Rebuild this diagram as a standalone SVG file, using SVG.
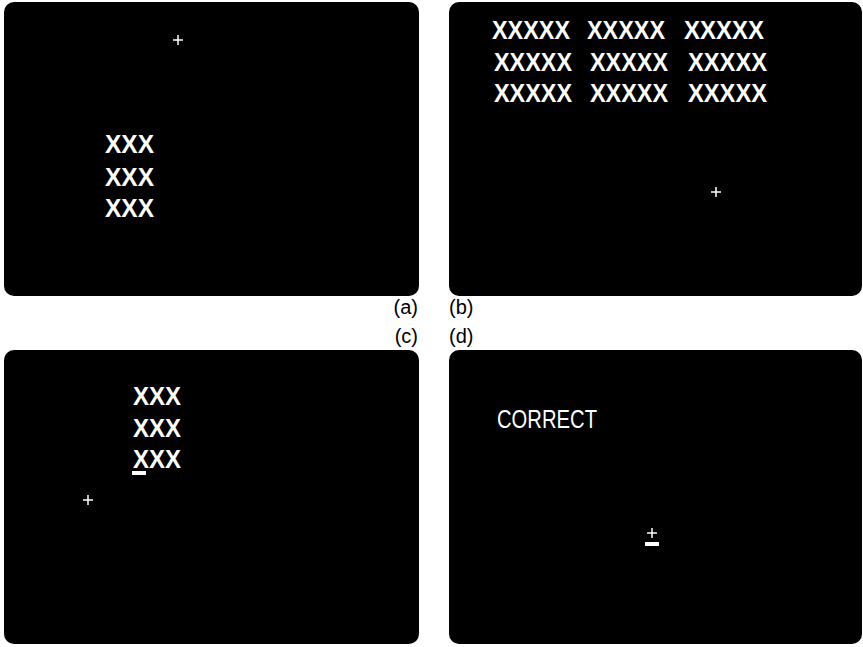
<svg xmlns="http://www.w3.org/2000/svg" width="863" height="647" viewBox="0 0 863 647">
<style>
.panel{fill:#000}
.x{font-family:"Liberation Sans",Arial,sans-serif;font-size:26px;fill:#fff;font-weight:bold}
.lab{font-family:"Liberation Sans",Arial,sans-serif;font-size:20px;fill:#000}
.cor{font-family:"Liberation Sans",Arial,sans-serif;font-size:26px;fill:#fff;font-weight:normal}
.plus{stroke:#fff;stroke-width:1.5;fill:none}
.bar{fill:#fff}
</style>
<rect width="863" height="647" fill="#fff"/>
<g id="panel-a">
<rect class="panel" x="4" y="2" width="415" height="294" rx="10"/>
<path class="plus" d="M173,40H183M178,35V45"/>
<text class="x" x="105" y="153" textLength="49" lengthAdjust="spacingAndGlyphs">XXX</text>
<text class="x" x="105" y="186" textLength="49" lengthAdjust="spacingAndGlyphs">XXX</text>
<text class="x" x="105" y="217" textLength="49" lengthAdjust="spacingAndGlyphs">XXX</text>
</g>
<g id="panel-b">
<rect class="panel" x="449" y="2" width="413" height="294" rx="10"/>
<text class="x" x="492" y="39" textLength="78" lengthAdjust="spacingAndGlyphs">XXXXX</text>
<text class="x" x="587" y="39" textLength="78" lengthAdjust="spacingAndGlyphs">XXXXX</text>
<text class="x" x="684" y="39" textLength="80" lengthAdjust="spacingAndGlyphs">XXXXX</text>
<text class="x" x="494" y="71" textLength="78" lengthAdjust="spacingAndGlyphs">XXXXX</text>
<text class="x" x="590" y="71" textLength="78" lengthAdjust="spacingAndGlyphs">XXXXX</text>
<text class="x" x="688" y="71" textLength="79" lengthAdjust="spacingAndGlyphs">XXXXX</text>
<text class="x" x="494" y="102" textLength="78" lengthAdjust="spacingAndGlyphs">XXXXX</text>
<text class="x" x="590" y="102" textLength="78" lengthAdjust="spacingAndGlyphs">XXXXX</text>
<text class="x" x="688" y="102" textLength="79" lengthAdjust="spacingAndGlyphs">XXXXX</text>
<path class="plus" d="M711,192H721M716,187V197"/>
</g>
<g id="panel-c">
<rect class="panel" x="4" y="350" width="415" height="294" rx="10"/>
<text class="x" x="133" y="405" textLength="48" lengthAdjust="spacingAndGlyphs">XXX</text>
<text class="x" x="133" y="437" textLength="48" lengthAdjust="spacingAndGlyphs">XXX</text>
<text class="x" x="133" y="468" textLength="48" lengthAdjust="spacingAndGlyphs">XXX</text>
<rect class="bar" x="132" y="471" width="14" height="4"/>
<path class="plus" d="M83,500H93M88,495V505"/>
</g>
<g id="panel-d">
<rect class="panel" x="449" y="350" width="413" height="294" rx="10"/>
<text class="cor" x="497" y="428" textLength="100" lengthAdjust="spacingAndGlyphs">CORRECT</text>
<path class="plus" d="M647,533H657M652,528V538"/>
<rect class="bar" x="645" y="542" width="14" height="4"/>
</g>
<g id="labels">
<text class="lab" x="418" y="314" text-anchor="end">(a)</text>
<text class="lab" x="449" y="314">(b)</text>
<text class="lab" x="418" y="343" text-anchor="end">(c)</text>
<text class="lab" x="449" y="343">(d)</text>
</g>
</svg>
